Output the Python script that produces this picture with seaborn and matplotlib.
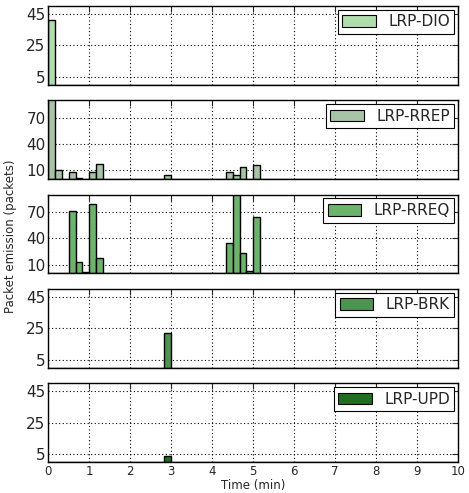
import numpy as np
import pandas as pd
import matplotlib
matplotlib.use("Agg")
import matplotlib.pyplot as plt
import seaborn as sns
from matplotlib.patches import Patch

sns.set_style("white")
plt.rcParams['font.family'] = ['DejaVu Sans']

# Data: bin start times (seconds, 10 s bins) and packet counts
series_names = ["LRP-DIO", "LRP-RREP", "LRP-RREQ", "LRP-BRK", "LRP-UPD"]
dio_sec = [0]
dio_cnt = [41]
rrep_sec = [0, 10, 30, 40, 60, 70, 170, 260, 270, 280, 300]
rrep_cnt = [110, 10, 8, 1, 8, 17, 4, 8, 5, 14, 16]
rreq_sec = [30, 40, 50, 60, 70, 260, 270, 280, 290, 300]
rreq_cnt = [71, 13, 1, 79, 18, 35, 100, 23, 2, 64]
brk_sec = [170]
brk_cnt = [22]
upd_sec = [170]
upd_cnt = [4]

colors = ["#b0dcae", "#a8c4a6", "#6cb36c", "#4f9350", "#1e6f1e"]
ylims = [(0, 50), (0, 90), (0, 90), (0, 50), (0, 50)]
yticks = [[5, 25, 45], [10, 40, 70], [10, 40, 70], [5, 25, 45], [5, 25, 45]]
xticks = list(range(0, 11))

secs = [dio_sec, rrep_sec, rreq_sec, brk_sec, upd_sec]
cnts = [dio_cnt, rrep_cnt, rreq_cnt, brk_cnt, upd_cnt]

bin_edges = [k / 6.0 for k in range(61)]

fig = plt.figure(figsize=(4.69, 4.93), dpi=100)
gs = fig.add_gridspec(5, 1, left=0.103, right=0.977, top=0.988, bottom=0.063, hspace=0.2)
axes = [fig.add_subplot(gs[i, 0]) for i in range(5)]

for i, ax in enumerate(axes):
    df = pd.DataFrame({"t": (np.array(secs[i], dtype=float) + 5) / 60.0,
                       "n": np.array(cnts[i], dtype=float)})
    sns.histplot(data=df, x="t", weights="n", bins=bin_edges, ax=ax,
                 color=colors[i], alpha=1.0, edgecolor="black", linewidth=1.0)
    ax.set_xlim(0, 10)
    ax.set_ylim(*ylims[i])
    ax.set_yticks(yticks[i])
    ax.set_xticks(xticks)
    ax.grid(True, linestyle=(0, (1, 2.2)), color="black", linewidth=0.8)
    ax.set_axisbelow(True)
    ax.tick_params(direction="in", top=True, right=True, length=4, width=0.8,
                   labelsize=11, pad=2)
    ax.tick_params(axis="x", labelsize=8.5)
    ax.set_ylabel("")
    ax.set_xlabel("")
    for s in ax.spines.values():
        s.set_color("black")
        s.set_linewidth(1.0)
    if i < 4:
        ax.set_xticklabels([])
    leg = ax.legend(handles=[Patch(facecolor=colors[i], edgecolor="black", linewidth=0.8,
                                   label=series_names[i])],
                    loc="upper right", fontsize=11, fancybox=False, framealpha=1,
                    edgecolor="black", handlelength=2.2, handleheight=0.8,
                    borderaxespad=0.25, borderpad=0.3, handletextpad=0.8)
    leg.get_frame().set_linewidth(0.8)

axes[-1].set_xlabel("Time (min)", fontsize=8.5, labelpad=1)
fig.text(0.022, 0.52, "Packet emission (packets)", rotation=90, va="center", ha="center",
         fontsize=8.5)

fig.savefig("out.png", dpi=100)
